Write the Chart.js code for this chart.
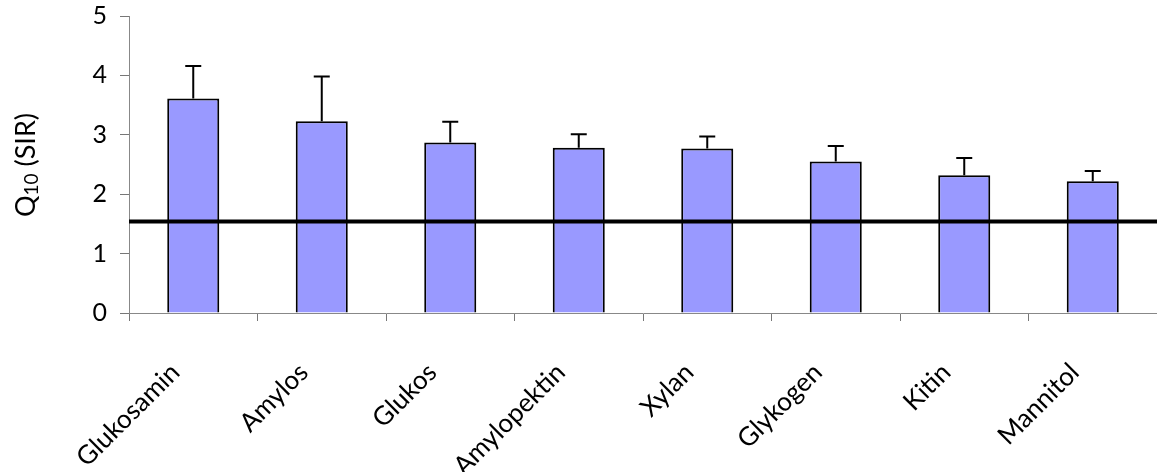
<!DOCTYPE html>
<html>
<head>
<meta charset="utf-8">
<script src="https://cdn.jsdelivr.net/npm/chart.js@4/dist/chart.umd.min.js"></script>
<style>
  html, body { margin: 0; padding: 0; background: #fff; }
  #wrap { width: 1157px; height: 472px; position: relative; }
</style>
</head>
<body>
<div id="wrap"><canvas id="c"></canvas></div>
<script>
// Q10 of substrate-induced respiration per substrate
const substrates = ['Glukosamin', 'Amylos', 'Glukos', 'Amylopektin', 'Xylan', 'Glykogen', 'Kitin', 'Mannitol'];
const q10Values = [3.61, 3.23, 2.87, 2.78, 2.77, 2.55, 2.32, 2.22];
const q10Errors = [0.55, 0.75, 0.35, 0.23, 0.20, 0.26, 0.29, 0.17];
const referenceQ10 = [1.54];
const yTicks = [0, 1, 2, 3, 4, 5];

const FONT = 'Lato, "Open Sans", sans-serif';

// error bars (upper whisker only) and the horizontal reference line
const overlayPlugin = {
  id: 'overlay',
  afterDatasetsDraw(chart) {
    const ctx = chart.ctx;
    const y = chart.scales.y;
    const area = chart.chartArea;
    const meta = chart.getDatasetMeta(0);
    ctx.save();
    ctx.strokeStyle = '#000';
    ctx.lineWidth = 2;
    meta.data.forEach((bar, i) => {
      const top = y.getPixelForValue(q10Values[i]);
      const end = y.getPixelForValue(q10Values[i] + q10Errors[i]);
      ctx.beginPath();
      ctx.moveTo(bar.x, top);
      ctx.lineTo(bar.x, end);
      ctx.moveTo(bar.x - 8, end);
      ctx.lineTo(bar.x + 8, end);
      ctx.stroke();
    });
    referenceQ10.forEach(v => {
      const py = y.getPixelForValue(v);
      ctx.lineWidth = 4;
      ctx.beginPath();
      ctx.moveTo(area.left, py);
      ctx.lineTo(chart.width, py);
      ctx.stroke();
    });
    ctx.restore();
  },
  afterDraw(chart) {
    // axis title Q10 (SIR) with subscript
    const ctx = chart.ctx;
    ctx.save();
    ctx.translate(35, 165);
    ctx.rotate(-Math.PI / 2);
    ctx.fillStyle = '#000';
    ctx.textBaseline = 'alphabetic';
    const big = '27px ' + FONT, small = '19px ' + FONT;
    ctx.font = big; const wQ = ctx.measureText('Q').width;
    ctx.font = small; const wSub = ctx.measureText('10').width;
    ctx.font = big; const wRest = ctx.measureText(' (SIR)').width;
    let x = -(wQ + wSub + wRest) / 2;
    ctx.font = big; ctx.fillText('Q', x, 0); x += wQ;
    ctx.font = small; ctx.fillText('10', x, 3); x += wSub;
    ctx.font = big; ctx.fillText(' (SIR)', x, 0);
    ctx.restore();
  }
};

new Chart(document.getElementById('c'), {
  type: 'bar',
  data: {
    labels: substrates,
    datasets: [{
      data: q10Values,
      backgroundColor: '#9999ff',
      borderColor: '#000',
      borderWidth: 2,
      barPercentage: 0.405,
      categoryPercentage: 1.0
    }]
  },
  options: {
    responsive: true,
    maintainAspectRatio: false,
    animation: false,
    layout: { padding: { top: 16, right: 0, left: 0, bottom: 0 } },
    plugins: { legend: { display: false }, tooltip: { enabled: false } },
    scales: {
      x: {
        afterFit(s) { s.height = 159; s.paddingLeft = 0; s.paddingRight = 0; },
        grid: { display: true, offset: true, drawOnChartArea: false, drawTicks: true, tickLength: 8, color: '#777', lineWidth: 1 },
        border: { display: true, color: '#888', width: 1 },
        ticks: { color: '#000', font: { family: FONT, size: 26 }, minRotation: 45, maxRotation: 45, padding: 36, labelOffset: -18 }
      },
      y: {
        min: 0, max: 5,
        afterFit(s) { s.width = 129; s.paddingTop = 0; s.paddingBottom = 0; },
        afterBuildTicks(s) { s.ticks = yTicks.map(v => ({ value: v })); },
        grid: { display: true, drawOnChartArea: false, drawTicks: true, tickLength: 9, color: '#777', lineWidth: 1 },
        border: { display: true, color: '#888', width: 1 },
        ticks: { color: '#000', font: { family: FONT, size: 25 }, padding: 13 }
      }
    }
  },
  plugins: [overlayPlugin]
});
</script>
</body>
</html>
